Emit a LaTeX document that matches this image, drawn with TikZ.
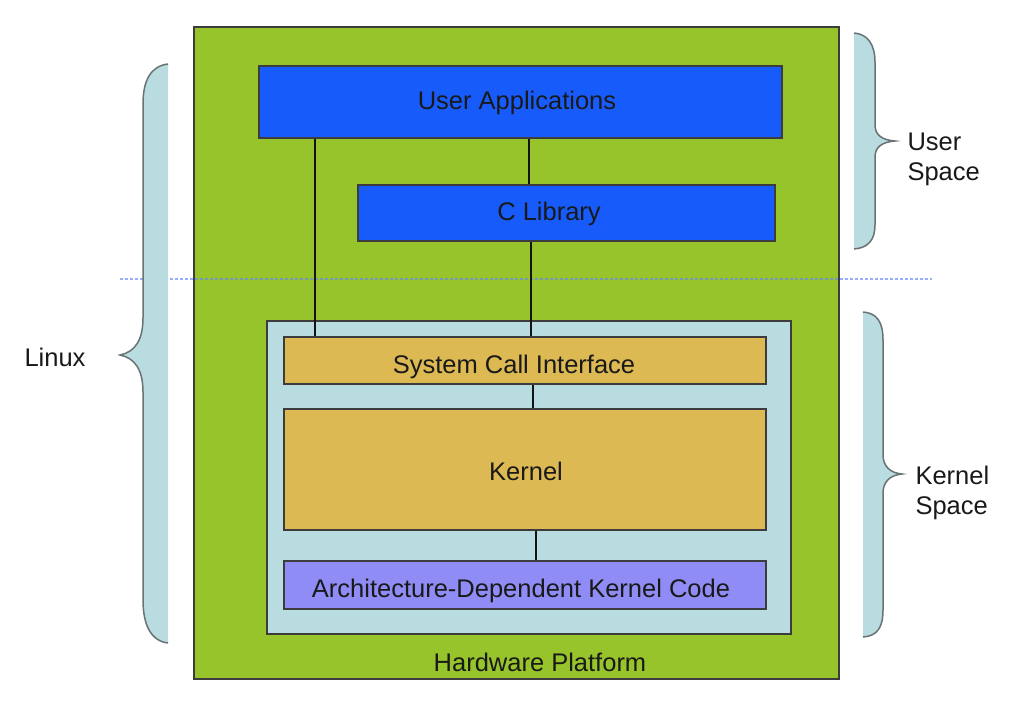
\documentclass[tikz,border=0pt]{standalone}
\usepackage{fontspec}
\setmainfont{Liberation Sans}
\definecolor{hwgreen}{RGB}{151,196,42}
\definecolor{ublue}{RGB}{23,92,250}
\definecolor{korange}{RGB}{221,185,84}
\definecolor{kcont}{RGB}{185,220,224}
\definecolor{apurple}{RGB}{143,140,245}
\definecolor{bfill}{RGB}{184,220,224}
\definecolor{bline}{RGB}{105,115,115}
\definecolor{txt}{RGB}{25,25,25}
\definecolor{dotblue}{RGB}{100,130,255}
\begin{document}
\begin{tikzpicture}[x=1pt,y=-1pt,
  every node/.style={font=\fontsize{25.5}{30}\selectfont, text=txt},
  box/.style={draw={rgb,255:red,60;green,60;blue,60}, line width=1.6pt, inner sep=0pt, anchor=north west},
  conn/.style={draw={rgb,255:red,20;green,20;blue,20}, line width=2.8pt},
  bracefill/.style={fill=bfill},
  braceline/.style={draw=bline, line width=1.5pt},
  dotline/.style={draw=dotblue, opacity=0.65, line width=2.5pt, dash pattern=on 2.5pt off 2.5pt},
  lbl/.style={align=left, anchor=west}]
\useasboundingbox (0,0) rectangle (1036,714);
% hardware platform
\node[box, fill=hwgreen, minimum width=645pt, minimum height=652pt] (hw) at (193,26) {};
\node (hwt) at (540,662) {Hardware Platform};
% dotted separator
\coordinate (dl) at (120,279);
\coordinate (dr) at (932,279);
\draw[dotline] (dl) -- (dr);
% kernel container
\node[box, fill=kcont, minimum width=524pt, minimum height=313pt] (kc) at (266,320) {};
% user space boxes
\node[box, fill=ublue, minimum width=523pt, minimum height=72pt] (ua) at (258,65) {};
\node (uat) at (517,103) {User Applications};
\node[box, fill=ublue, minimum width=417pt, minimum height=56pt] (cl) at (357,184) {};
\node (clt) at (549,214) {C Library};
% kernel boxes
\node[box, fill=korange, minimum width=482pt, minimum height=47pt] (sci) at (283,336) {};
\node (scit) at (514,367) {System Call Interface};
\node[box, fill=korange, minimum width=482pt, minimum height=121pt] (ker) at (283,408) {};
\node (kert) at (526,471) {Kernel};
\node[box, fill=apurple, minimum width=482pt, minimum height=48pt] (arch) at (283,560) {};
\node (archt) at (521,591) {Architecture-Dependent Kernel Code};
% connectors
\coordinate (c1) at (315,0);
\coordinate (c2) at (529,0);
\coordinate (c3) at (531,0);
\coordinate (c4) at (533,0);
\coordinate (c5) at (536,0);
\draw[conn] (ua.south -| c1) -- (sci.north -| c1);
\draw[conn] (ua.south -| c2) -- (cl.north -| c2);
\draw[conn] (cl.south -| c3) -- (sci.north -| c3);
\draw[conn] (sci.south -| c4) -- (ker.north -| c4);
\draw[conn] (ker.south -| c5) -- (arch.north -| c5);
% Linux brace
\fill[bracefill] (168,64) .. controls (151,66) and (143,80) .. (143,104) -- (143,318)
  .. controls (143,340) and (135,352) .. (120,355) .. controls (135,358) and (143,370) .. (143,392)
  -- (143,600) .. controls (143,625) and (151,641) .. (168,643) -- cycle;
\draw[braceline] (168,64) .. controls (151,66) and (143,80) .. (143,104) -- (143,318)
  .. controls (143,340) and (135,352) .. (120,355) .. controls (135,358) and (143,370) .. (143,392)
  -- (143,600) .. controls (143,625) and (151,641) .. (168,643);
% User Space brace
\fill[bracefill] (854,33) .. controls (868,34) and (875,45) .. (875,62) -- (875,125)
  .. controls (875,135) and (882,140) .. (895,141) .. controls (882,142) and (875,147) .. (875,157)
  -- (875,225) .. controls (875,240) and (868,248) .. (854,249) -- cycle;
\draw[braceline] (854,33) .. controls (868,34) and (875,45) .. (875,62) -- (875,125)
  .. controls (875,135) and (882,140) .. (895,141) .. controls (882,142) and (875,147) .. (875,157)
  -- (875,225) .. controls (875,240) and (868,248) .. (854,249);
% Kernel Space brace
\fill[bracefill] (863,312) .. controls (877,313) and (883,322) .. (883,340) -- (883,455)
  .. controls (883,466) and (890,473) .. (902,474) .. controls (890,475) and (883,482) .. (883,493)
  -- (883,610) .. controls (883,628) and (877,636) .. (863,637) -- cycle;
\draw[braceline] (863,312) .. controls (877,313) and (883,322) .. (883,340) -- (883,455)
  .. controls (883,466) and (890,473) .. (902,474) .. controls (890,475) and (883,482) .. (883,493)
  -- (883,610) .. controls (883,628) and (877,636) .. (863,637);
% labels
\node (linux) at (55,357) {Linux};
\node[lbl] (us) at (904,159) {User\\Space};
\node[lbl] (ks) at (912,493) {Kernel\\Space};
\end{tikzpicture}
\end{document}
